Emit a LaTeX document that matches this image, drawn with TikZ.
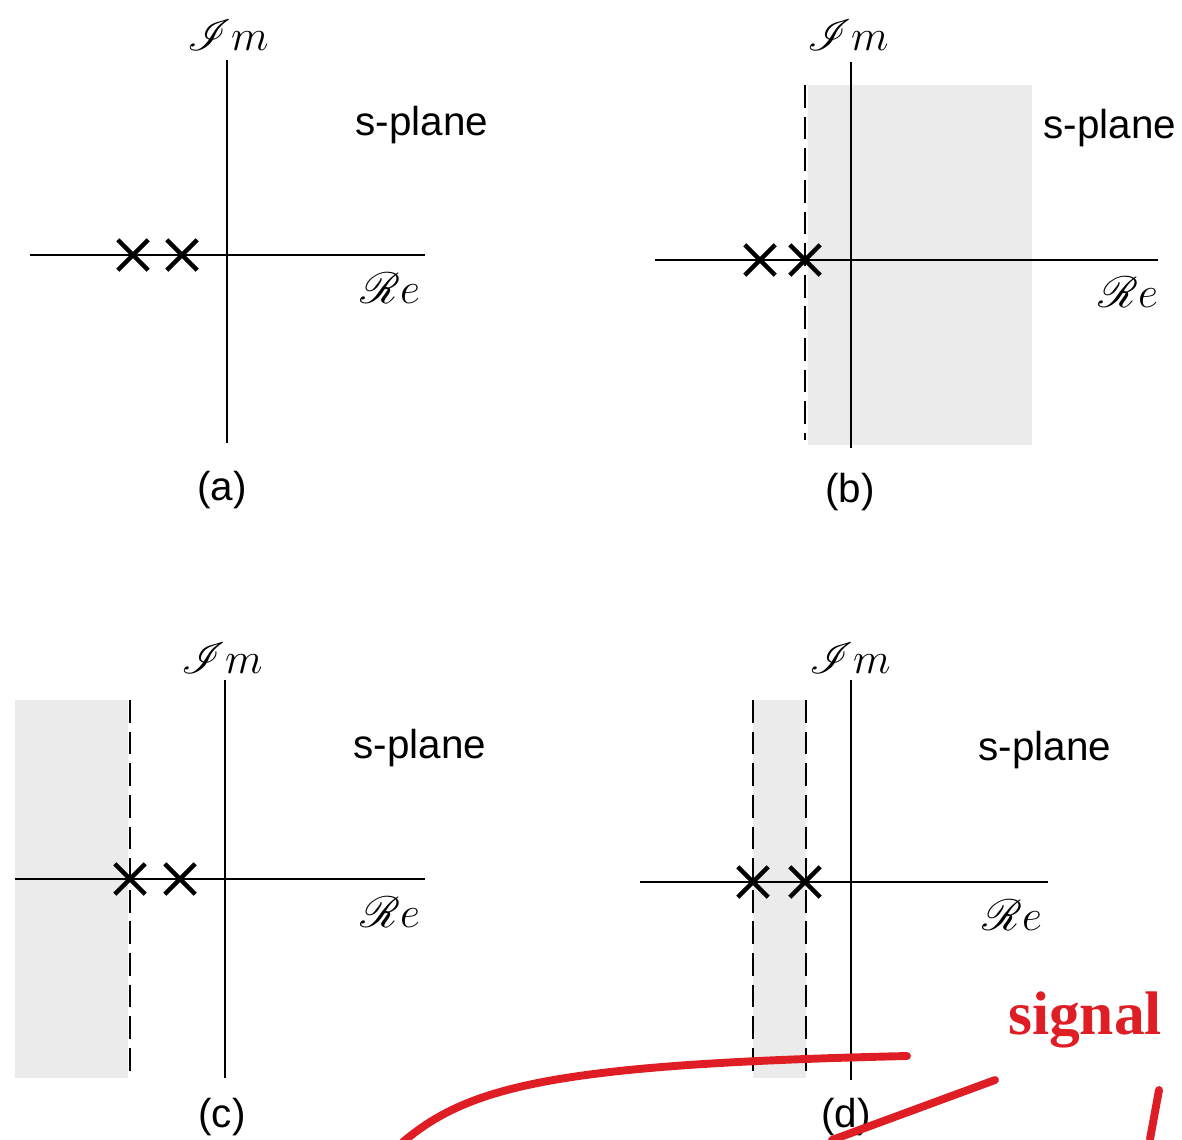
\documentclass[tikz,border=0pt]{standalone}
\usepackage{fontspec}
\setmainfont{Liberation Sans}
\newfontfamily\serifbold{Liberation Serif}
\usepackage{mathrsfs}
\usetikzlibrary{shapes.misc, positioning}
\definecolor{rojopluma}{RGB}{222, 30, 36}
\definecolor{sombra}{RGB}{235, 235, 235}

\begin{document}
\begin{tikzpicture}[x=0.02cm, y=-0.02cm,
      every node/.style={font=\fontsize{23}{26}\selectfont},
      eje/.style={line width=1pt},
      borde/.style={line width=1pt, dash pattern=on 13pt off 5pt},
      polo/.style={cross out, draw, line width=2.5pt, minimum size=0.52cm, inner sep=0pt},
      rotulo/.style={font=\fontsize{24}{26}\selectfont, inner sep=1pt},
      marca/.style={draw=rojopluma, line width=4.5pt, line cap=round}]
      \useasboundingbox (0,0) rectangle (1182,1139);
      % Panel (a)
      \draw[eje] (227,60) -- (227,443);
      \draw[eje] (30,255) -- (425,255);
      \node[polo] (pa1) at (133,255) {}; \node[polo] (pa2) at (182,255) {};
      \node[rotulo] (ima) at (228,35) {$\mathscr{I}m$};
      \node[rotulo] (rea) at (390,288) {$\mathscr{R}e$};
      \node (spa) at (422,125) {s-plane};
      \node (capa) at (222,490) {(a)};
      % Panel (b)
      \fill[sombra] (808,85) rectangle (1032,445);
      \draw[borde] (805,85) -- (805,440);
      \draw[eje] (851,62) -- (851,448);
      \draw[eje] (655,260) -- (1158,260);
      \node[polo] (pb1) at (760,260) {}; \node[polo] (pb2) at (805,260) {};
      \node[rotulo] (imb) at (848,35) {$\mathscr{I}m$};
      \node[rotulo] (reb) at (1128,292) {$\mathscr{R}e$};
      \node (spb) at (1110,128) {s-plane};
      \node (capb) at (850,492) {(b)};
      % Panel (c)
      \fill[sombra] (15,700) rectangle (128,1078);
      \draw[borde] (130,700) -- (130,1075);
      \draw[eje] (225,680) -- (225,1078);
      \draw[eje] (15,879) -- (425,879);
      \node[polo] (pc1) at (130,879) {}; \node[polo] (pc2) at (180,879) {};
      \node[rotulo] (imc) at (222,658) {$\mathscr{I}m$};
      \node[rotulo] (rec) at (390,912) {$\mathscr{R}e$};
      \node (spc) at (420,748) {s-plane};
      \node (capc) at (222,1117) {(c)};
      % Panel (d)
      \fill[sombra] (753,700) rectangle (806,1078);
      \draw[borde] (753,700) -- (753,1075);
      \draw[borde] (806,700) -- (806,1075);
      \draw[eje] (851,680) -- (851,1080);
      \draw[eje] (640,882) -- (1048,882);
      \node[polo] (pd1) at (753,882) {}; \node[polo] (pd2) at (805,882) {};
      \node[rotulo] (imd) at (850,658) {$\mathscr{I}m$};
      \node[rotulo] (red) at (1012,915) {$\mathscr{R}e$};
      \node (spd) at (1045,750) {s-plane};
      \node (capd) at (846,1117) {(d)};
      % Red pen marks
      \node[text=rojopluma, font=\serifbold\bfseries\fontsize{35}{36}\selectfont] (firma) at (1085,1020) {signal};
      \draw[marca] (403,1142) .. controls (470,1085) and (560,1064) .. (907,1056);
      \draw[marca] (832,1140) -- (995,1080);
      \draw[marca] (1150,1139) -- (1159,1090);
    \end{tikzpicture}
\end{document}
